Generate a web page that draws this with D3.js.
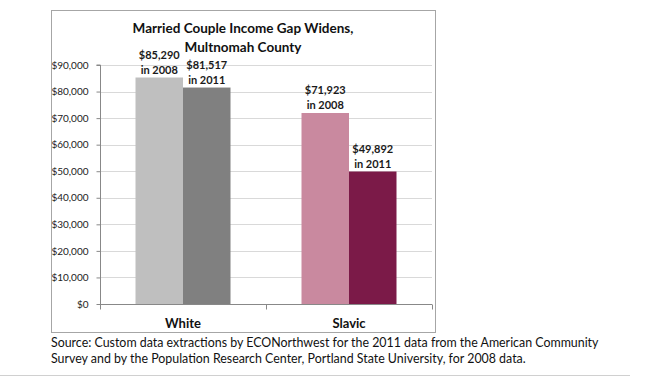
<!DOCTYPE html>
<html>
<head>
<meta charset="utf-8">
<script src="https://cdn.jsdelivr.net/npm/d3@7"></script>
<style>
  body { margin: 0; background: #fff; }
  svg { display: block; font-family: Lato, "Open Sans", sans-serif; }
</style>
</head>
<body>
<svg id="chart" width="657" height="377"></svg>
<script>
// chart data
const categories = ["White", "Slavic"];
const years = ["2008", "2011"];
const values2008 = [85290, 71923];
const values2011 = [81517, 49892];
const yTicks = [0, 10000, 20000, 30000, 40000, 50000, 60000, 70000, 80000, 90000];
const colors = [["#bfbfbf", "#808080"], ["#c9899f", "#7b1a48"]];
const titleLines = ["Married Couple Income Gap Widens,", "Multnomah County"];
const sourceLines = [
  "Source: Custom data extractions by ECONorthwest for the 2011 data from the American Community",
  "Survey and by the Population Research Center, Portland State University, for 2008 data."
];

const svg = d3.select("#chart");
const fmt = d3.format("$,");

// outer chart frame
svg.append("rect")
  .attr("x", 51.5).attr("y", 10.5)
  .attr("width", 384).attr("height", 322)
  .attr("fill", "#fff").attr("stroke", "#a6a6a6");

const x0 = d3.scaleBand().domain(categories).range([100, 432]);
const x1 = d3.scaleBand().domain(years).range([0, 95]);
const y = d3.scaleLinear().domain([0, 90000]).range([304, 65]);

// gridlines
svg.append("g").selectAll("line")
  .data(yTicks.slice(1))
  .enter().append("line")
  .attr("x1", 100).attr("x2", 432)
  .attr("y1", (d) => Math.round(y(d)) + 0.5)
  .attr("y2", (d) => Math.round(y(d)) + 0.5)
  .attr("stroke", "#d9d9d9");

// bars
const groups = svg.append("g").selectAll("g")
  .data(categories)
  .enter().append("g")
  .attr("transform", (d) => `translate(${x0(d) + x0.bandwidth() / 2 - 47.5},0)`);

const barData = (c, i) => years.map((yr, j) => ({
  year: yr,
  value: j === 0 ? values2008[i] : values2011[i],
  color: colors[i][j]
}));

groups.each(function (c, i) {
  const g = d3.select(this);
  const data = barData(c, i);
  g.selectAll("rect")
    .data(data)
    .enter().append("rect")
    .attr("x", (d) => x1(d.year))
    .attr("width", x1.bandwidth())
    .attr("y", (d) => y(d.value))
    .attr("height", (d) => y(0) - y(d.value))
    .attr("fill", (d) => d.color);

  const lbl = g.selectAll("text")
    .data(data)
    .enter().append("text")
    .attr("text-anchor", "middle")
    .attr("font-size", 11)
    .attr("font-weight", "bold")
    .attr("fill", "#1a1a1a");
  lbl.append("tspan")
    .attr("x", (d) => x1(d.year) + x1.bandwidth() / 2)
    .attr("y", (d) => y(d.value) - 19)
    .text((d) => fmt(d.value));
  lbl.append("tspan")
    .attr("x", (d) => x1(d.year) + x1.bandwidth() / 2)
    .attr("y", (d) => y(d.value) - 4)
    .text((d) => "in " + d.year);
});

// y axis
const yAxis = svg.append("g")
  .attr("transform", "translate(100.5,0)")
  .call(d3.axisLeft(y).tickValues(yTicks).tickFormat(fmt).tickSize(4).tickPadding(8));
yAxis.select(".domain").attr("stroke", "#888").attr("d", `M-4,${y(90000)}H0V${y(0)}`);
yAxis.selectAll(".tick line").attr("stroke", "#888");
yAxis.selectAll("text").attr("font-size", 10).attr("fill", "#222")
  .attr("font-family", "Lato, sans-serif");

// x axis
const xAxis = svg.append("g").attr("transform", "translate(0,304.5)");
xAxis.append("line").attr("x1", 100).attr("x2", 432).attr("stroke", "#888");
xAxis.selectAll("line.tk")
  .data([100, 100 + x0.step(), 432])
  .enter().append("line")
  .attr("class", "tk")
  .attr("x1", (d) => d + 0.5).attr("x2", (d) => d + 0.5)
  .attr("y1", 0).attr("y2", 5)
  .attr("stroke", "#888");
xAxis.selectAll("text")
  .data(categories)
  .enter().append("text")
  .attr("x", (d) => x0(d) + x0.bandwidth() / 2)
  .attr("y", 23)
  .attr("text-anchor", "middle")
  .attr("font-size", 13)
  .attr("font-weight", "bold")
  .attr("fill", "#111")
  .text((d) => d);

// title
svg.append("g").selectAll("text")
  .data(titleLines)
  .enter().append("text")
  .attr("x", 243)
  .attr("y", (d, i) => 33 + i * 19)
  .attr("text-anchor", "middle")
  .attr("font-size", 13.5)
  .attr("font-weight", "bold")
  .attr("fill", "#111")
  .text((d) => d);

// source note
svg.append("g").selectAll("text")
  .data(sourceLines)
  .enter().append("text")
  .attr("x", 51)
  .attr("y", (d, i) => 347 + i * 16)
  .attr("font-size", 12.4)
  .attr("fill", "#111")
  .text((d) => d);

svg.append("line")
  .attr("x1", 0).attr("x2", 630)
  .attr("y1", 375.5).attr("y2", 375.5)
  .attr("stroke", "#d0d0d0");
</script>
</body>
</html>
